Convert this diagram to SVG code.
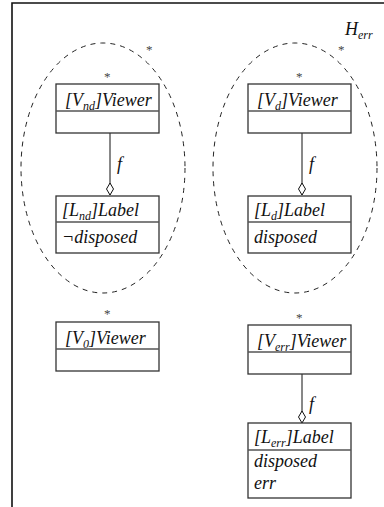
<svg xmlns="http://www.w3.org/2000/svg" width="384" height="507" viewBox="0 0 384 507">
<style>
text{font-family:'Liberation Serif','DejaVu Serif',serif;font-style:italic;fill:#111}
.t{font-size:18px}
.s{font-size:12px}
.st{font-size:13px;font-style:normal;fill:#444}
.box{fill:#fff;stroke:#333;stroke-width:1.3}
.div{stroke:#555;stroke-width:1.5}
.ell{fill:none;stroke:#222;stroke-width:1;stroke-dasharray:5,5}
.edge{stroke:#111;stroke-width:1;fill:none}
</style>
<defs>
<marker id="dia" viewBox="0 0 14 8" refX="13" refY="4" markerWidth="14" markerHeight="8" markerUnits="userSpaceOnUse" orient="auto">
<path d="M1 4 L7 0.5 L13 4 L7 7.5 Z" fill="#fff" stroke="#111" stroke-width="1"/>
</marker>
</defs>
<rect width="384" height="507" fill="#fff"/>
<path d="M12 507 V3 H384" fill="none" stroke="#111" stroke-width="1.6"/>
<text x="345" y="35" class="t">H<tspan class="s" dy="4">err</tspan></text>

<g id="ellipses">
<ellipse class="ell" cx="103" cy="168" rx="82" ry="125"/>
<text x="146" y="54" class="st">*</text>
<ellipse class="ell" cx="295" cy="168" rx="82" ry="125"/>
<text x="338" y="54" class="st">*</text>
</g>

<g id="connectors">
<path class="edge" d="M110 133 V195" marker-end="url(#dia)"/>
<text x="117" y="170" class="t">f</text>
<path class="edge" d="M302 133 V195" marker-end="url(#dia)"/>
<text x="309" y="170" class="t">f</text>
<path class="edge" d="M302 374 V423" marker-end="url(#dia)"/>
<text x="309" y="410" class="t">f</text>
</g>

<g id="Vnd">
<text x="104" y="81" class="st">*</text>
<rect class="box" x="56" y="84" width="103" height="49"/>
<line class="div" x1="56" y1="111" x2="159" y2="111"/>
<text x="65" y="106" class="t">[V<tspan class="s" dy="4">nd</tspan><tspan dy="-4">]Viewer</tspan></text>
</g>

<g id="Lnd">
<rect class="box" x="56" y="196" width="103" height="57"/>
<line class="div" x1="56" y1="222" x2="159" y2="222"/>
<text x="62" y="216" class="t">[L<tspan class="s" dy="4">nd</tspan><tspan dy="-4">]Label</tspan></text>
<text x="62" y="243" class="t">¬disposed</text>
</g>

<g id="Vd">
<text x="296" y="81" class="st">*</text>
<rect class="box" x="248" y="84" width="103" height="49"/>
<line class="div" x1="248" y1="111" x2="351" y2="111"/>
<text x="257" y="106" class="t">[V<tspan class="s" dy="4">d</tspan><tspan dy="-4">]Viewer</tspan></text>
</g>

<g id="Ld">
<rect class="box" x="248" y="196" width="103" height="57"/>
<line class="div" x1="248" y1="222" x2="351" y2="222"/>
<text x="254" y="216" class="t">[L<tspan class="s" dy="4">d</tspan><tspan dy="-4">]Label</tspan></text>
<text x="254" y="243" class="t">disposed</text>
</g>

<g id="V0">
<text x="104" y="318" class="st">*</text>
<rect class="box" x="56" y="322" width="103" height="49"/>
<line class="div" x1="56" y1="349" x2="159" y2="349"/>
<text x="65" y="344" class="t">[V<tspan class="s" dy="4">0</tspan><tspan dy="-4">]Viewer</tspan></text>
</g>

<g id="Verr">
<text x="296" y="322" class="st">*</text>
<rect class="box" x="248" y="325" width="103" height="49"/>
<line class="div" x1="248" y1="352" x2="351" y2="352"/>
<text x="257" y="347" class="t">[V<tspan class="s" dy="4">err</tspan><tspan dy="-4">]Viewer</tspan></text>
</g>

<g id="Lerr">
<rect class="box" x="248" y="423" width="103" height="75"/>
<line class="div" x1="248" y1="450" x2="351" y2="450"/>
<text x="254" y="443" class="t">[L<tspan class="s" dy="4">err</tspan><tspan dy="-4">]Label</tspan></text>
<text x="254" y="467" class="t">disposed</text>
<text x="254" y="489" class="t">err</text>
</g>
</svg>
